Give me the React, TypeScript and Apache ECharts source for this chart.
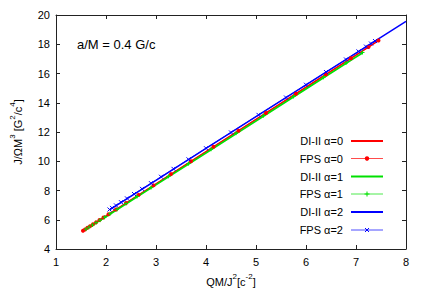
import React, { useEffect, useRef } from "react";
import * as echarts from "echarts";

const xTicks = [1, 2, 3, 4, 5, 6, 7, 8];
const yTicks = [4, 6, 8, 10, 12, 14, 16, 18, 20];

const di0X = [1.54, 2, 3, 4, 5, 6, 7, 7.45];
const di0Y = [5.25, 6.26, 8.46, 10.66, 12.86, 15.06, 17.26, 18.25];

const fps0X = [1.54, 1.58, 1.63, 1.68, 1.74, 1.8, 1.87, 1.95, 2.05, 2.2, 2.4, 2.65, 2.95, 3.3, 3.7, 4.15, 4.65, 5.2, 5.8, 6.4, 6.9, 7.25, 7.45];
const fps0Y = [5.25, 5.34, 5.45, 5.56, 5.69, 5.82, 5.98, 6.15, 6.37, 6.7, 7.14, 7.69, 8.35, 9.12, 10.0, 10.99, 12.09, 13.3, 14.62, 15.94, 17.04, 17.81, 18.25];

const di1X = [1.6, 2, 3, 4, 5, 6, 7, 7.13];
const di1Y = [5.36, 6.2, 8.38, 10.56, 12.75, 14.94, 17.12, 17.4];

const fps1X = [1.6, 1.66, 1.73, 1.8, 1.88, 1.97, 2.08, 2.22, 2.4, 2.62, 2.9, 3.25, 3.65, 4.1, 4.6, 5.15, 5.75, 6.35, 6.8, 7.13];
const fps1Y = [5.36, 5.49, 5.64, 5.8, 5.97, 6.17, 6.41, 6.71, 7.11, 7.59, 8.2, 8.97, 9.84, 10.82, 11.92, 13.12, 14.43, 15.74, 16.72, 17.44];

const di2X = [2.07, 3, 4, 5, 6, 7, 8];
const di2Y = [6.68, 8.7, 10.88, 13.05, 15.22, 17.4, 19.57];

const fps2X = [2.07, 2.12, 2.2, 2.3, 2.42, 2.56, 2.72, 2.9, 3.1, 3.35, 3.65, 4.0, 4.5, 5.05, 5.6, 6.0, 6.4, 6.8, 7.05, 7.2, 7.3, 7.38];
const fps2Y = [6.7, 6.81, 6.98, 7.2, 7.46, 7.76, 8.11, 8.5, 8.94, 9.48, 10.13, 10.89, 11.97, 13.17, 14.36, 15.23, 16.1, 16.96, 17.51, 17.84, 18.05, 18.22];

const legendNames = ["DI-II α=0", "FPS α=0", "DI-II α=1", "FPS α=1", "DI-II α=2", "FPS α=2"];
const annotation = "a/M = 0.4 G/c";

const RED = "#ff0000";
const GREEN = "#00e000";
const BLUE = "#0000ff";
const FONT = "Liberation Sans, Arial, sans-serif";

const zip = (xs: number[], ys: number[]) => xs.map((x, i) => [x, ys[i]]);

const PLUS = "path://M0,5L10,5M5,0L5,10";
const CROSS = "path://M0,0L10,10M0,10L10,0";

export default function App() {
  const ref = useRef<HTMLDivElement>(null);
  useEffect(() => {
    if (!ref.current) return;
    const chart = echarts.init(ref.current, undefined, { renderer: "svg" });
    const axisCommon = {
      axisLine: { show: true, lineStyle: { color: "#222", width: 1 } },
      axisTick: { show: true, inside: true, length: 4, lineStyle: { color: "#222" } },
      splitLine: { show: false },
    };
    const supRich = {
      n: { fontSize: 11, fontFamily: FONT, color: "#000", verticalAlign: "bottom", lineHeight: 15 },
      s: { fontSize: 8, fontFamily: FONT, color: "#000", verticalAlign: "top", lineHeight: 15 },
    };
    const legY = [141, 158.5, 176.5, 194, 212, 230];
    const legColors = [RED, RED, GREEN, GREEN, BLUE, BLUE];
    const graphics: any[] = [
      {
        type: "text",
        x: 77,
        y: 44,
        style: { text: annotation, font: `13px ${FONT}`, fill: "#000", verticalAlign: "middle", align: "left" },
      },
    ];
    legendNames.forEach((nm, i) => {
      const y = legY[i];
      const c = legColors[i];
      const isFps = i % 2 === 1;
      graphics.push({
        type: "text",
        x: 343,
        y,
        style: { text: nm, font: `11px ${FONT}`, fill: "#000", align: "right", verticalAlign: "middle" },
      });
      graphics.push({
        type: "line",
        shape: { x1: 351, y1: y, x2: 383, y2: y },
        style: { stroke: c, lineWidth: isFps ? 1 : 2, opacity: isFps ? 0.7 : 1 },
      });
      if (i === 1) {
        graphics.push({ type: "circle", shape: { cx: 367, cy: y, r: 2.2 }, style: { fill: RED } });
      } else if (i === 3) {
        graphics.push({ type: "line", shape: { x1: 364.5, y1: y, x2: 369.5, y2: y }, style: { stroke: GREEN, lineWidth: 1 } });
        graphics.push({ type: "line", shape: { x1: 367, y1: y - 2.5, x2: 367, y2: y + 2.5 }, style: { stroke: GREEN, lineWidth: 1 } });
      } else if (i === 5) {
        graphics.push({ type: "line", shape: { x1: 365, y1: y - 2, x2: 369, y2: y + 2 }, style: { stroke: BLUE, lineWidth: 1 } });
        graphics.push({ type: "line", shape: { x1: 365, y1: y + 2, x2: 369, y2: y - 2 }, style: { stroke: BLUE, lineWidth: 1 } });
      }
    });

    const option: any = {
      animation: false,
      backgroundColor: "#fff",
      grid: { left: 51, right: 22, top: 15, bottom: 51, containLabel: false },
      xAxis: [
        {
          type: "value",
          min: 1,
          max: 8,
          interval: 1,
          position: "bottom",
          ...axisCommon,
          axisLabel: { fontSize: 11, fontFamily: FONT, color: "#000", margin: 7, customValues: xTicks },
          name: "{n|QM/J}{s|2}{n|[c}{s|-2}{n|]}",
          nameLocation: "middle",
          nameGap: 23,
          nameTextStyle: { rich: supRich },
        },
        {
          type: "value",
          min: 1,
          max: 8,
          interval: 1,
          position: "top",
          ...axisCommon,
          axisLabel: { show: false },
        },
      ],
      yAxis: [
        {
          type: "value",
          min: 4,
          max: 20,
          interval: 2,
          position: "left",
          ...axisCommon,
          axisLabel: { fontSize: 11, fontFamily: FONT, color: "#000", margin: 6, customValues: yTicks },
          name: "{n|J/ΩM}{s|3}{n| [G}{s|2}{n|/c}{s|4}{n|]}",
          nameLocation: "middle",
          nameGap: 33,
          nameRotate: 90,
          nameTextStyle: { rich: supRich },
        },
        {
          type: "value",
          min: 4,
          max: 20,
          interval: 2,
          position: "right",
          ...axisCommon,
          axisLabel: { show: false },
        },
      ],
      graphic: graphics,
      series: [
        {
          name: legendNames[0],
          type: "line",
          data: zip(di0X, di0Y),
          symbol: "none",
          lineStyle: { color: RED, width: 1.5 },
          clip: true,
        },
        {
          name: legendNames[1],
          type: "line",
          data: zip(fps0X, fps0Y),
          symbol: "circle",
          symbolSize: 4,
          itemStyle: { color: RED },
          lineStyle: { color: RED, width: 1, opacity: 0.7 },
          clip: true,
        },
        {
          name: legendNames[2],
          type: "line",
          data: zip(di1X, di1Y),
          symbol: "none",
          lineStyle: { color: GREEN, width: 1.5 },
          clip: true,
        },
        {
          name: legendNames[3],
          type: "line",
          data: zip(fps1X, fps1Y),
          symbol: PLUS,
          symbolSize: 4,
          itemStyle: { color: "none", borderColor: GREEN, borderWidth: 1 },
          lineStyle: { color: GREEN, width: 1, opacity: 0.7 },
          clip: true,
        },
        {
          name: legendNames[4],
          type: "line",
          data: zip(di2X, di2Y),
          symbol: "none",
          lineStyle: { color: BLUE, width: 1.5 },
          clip: true,
        },
        {
          name: legendNames[5],
          type: "line",
          data: zip(fps2X, fps2Y),
          symbol: CROSS,
          symbolSize: 4,
          itemStyle: { color: "none", borderColor: BLUE, borderWidth: 1 },
          lineStyle: { color: BLUE, width: 1, opacity: 0.7 },
          clip: true,
        },
      ],
    };
    chart.setOption(option);
    return () => chart.dispose();
  }, []);
  return <div ref={ref} style={{ width: 428, height: 300, position: "absolute", left: 0, top: 0 }} />;
}
